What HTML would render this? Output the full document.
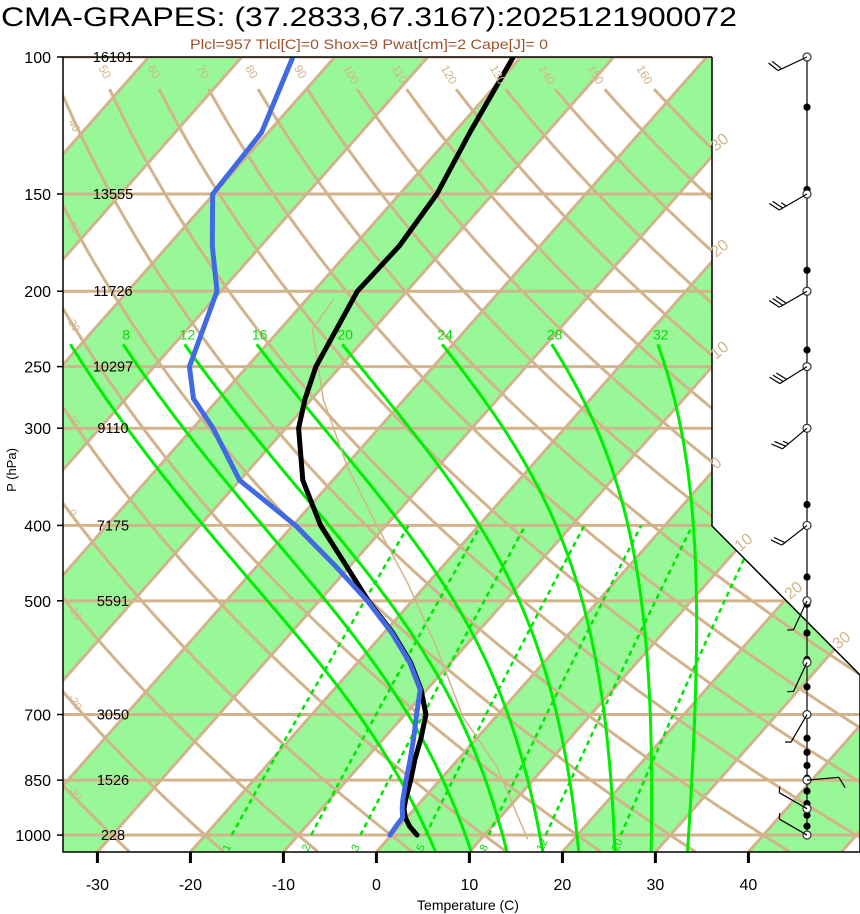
<!DOCTYPE html>
<html><head><meta charset="utf-8"><style>
html,body{margin:0;padding:0;background:#fff;}
svg{display:block;font-family:"Liberation Sans",Arial,sans-serif;}
</style></head><body>
<svg id="chart" width="860" height="914" viewBox="0 0 860 914" xmlns="http://www.w3.org/2000/svg">
<defs><clipPath id="clip"><polygon points="63,57 712,57 712,526 860,675 860,852 63,852"/></clipPath></defs>
<text x="1" y="26" font-size="27" textLength="736" lengthAdjust="spacingAndGlyphs">CMA-GRAPES: (37.2833,67.3167):2025121900072</text>
<text x="190" y="49" font-size="14" fill="#A0522D" textLength="358" lengthAdjust="spacingAndGlyphs">Plcl=957 Tlcl[C]=0 Shox=9 Pwat[cm]=2 Cape[J]= 0</text>
<g id="bg" clip-path="url(#clip)"></g>
<g id="fg"></g>
<text transform="translate(16,470) rotate(-90)" font-size="13" text-anchor="middle">P (hPa)</text>
<text x="468" y="910" font-size="14" text-anchor="middle">Temperature (C)</text>
</svg>
<script>
const pressureLevels=[100,125,150,175,200,250,275,300,350,400,450,500,550,600,650,700,750,800,850,900,925,950,975,1000];
const temperature=[-60.8,-58.3,-56.0,-55.1,-55.3,-52.6,-50.7,-48.6,-43.2,-37.0,-30.5,-24.7,-19.0,-14.3,-10.6,-7.7,-6.0,-4.6,-3.1,-1.8,-1.1,-0.1,1.2,2.8];
const dewpoint=[-84.5,-80.7,-80.1,-75.2,-70.4,-66.2,-62.7,-57.8,-50.0,-39.7,-31.7,-24.8,-19.1,-14.4,-10.7,-8.7,-6.8,-5.1,-3.6,-2.1,-1.3,-0.4,-0.3,-0.1];
const parcelP=[205,224,276,337,402,474,578,705,817,1013];
const parcelT=[-57.1,-56.5,-48.6,-39.6,-30.7,-22.2,-12.6,-3.5,4.9,15.1];
const isobarLevels=[100,150,200,250,300,400,500,700,850,1000];
const heightLabels=[16101,13555,11726,10297,9110,7175,5591,3050,1526,228];
const tempTicks=[-30,-20,-10,0,10,20,30,40];
const thetaValues=[-40,-30,-20,-10,0,10,20,30,40,50,60,70,80,90,100,110,120,130,140,150,160];
const moistValues=[4,8,12,16,20,24,28,32];
const mixingValues=[1,2,3,5,8,12,20];
const windDotP=[116,148,188,238,300,376,466,505,550,595,645,698,751,783,814,845,878,911,943,974,1003];
const windBarbP=[100,150,200,250,300,400,500,600,700,850,925,1000];
const windDir=[245,240,240,238,230,232,205,205,210,85,300,300];
const windSpd=[20,25,30,30,25,20,5,5,5,10,5,5];

const NS='http://www.w3.org/2000/svg';
const yP=p=>57+337.9*Math.log(p/100);
const xT=(T,p)=>376+9.3*T+0.884*(852-yP(p));
const bg=document.getElementById('bg'), fg=document.getElementById('fg');
function mk(tag,attrs,parent){const e=document.createElementNS(NS,tag);for(const k in attrs)e.setAttribute(k,attrs[k]);parent.appendChild(e);return e;}
const TAN='#D2B48C';

for(let T=-160;T<=60;T+=10){
  if(((Math.floor(T/10))%2+2)%2!==0) continue;
  const pts=[[xT(T,1050),852],[xT(T+10,1050),852],[xT(T+10,100),57],[xT(T,100),57]].map(a=>a.join(',')).join(' ');
  const b=mk('polygon',{points:pts,fill:'#98F898'},bg);
  
  
}
for(let T=-160;T<=60;T+=10){
  const l=mk('line',{x1:xT(T,1050),y1:852,x2:xT(T,100),y2:57,stroke:TAN,'stroke-width':3},bg);
  
  
}
thetaValues.forEach(th=>{
  const pts=[];
  for(let p=1050;p>=110;p-=5){const T=(th+273.15)*Math.pow(p/1000,0.2857)-273.15;pts.push(xT(T,p).toFixed(1)+','+yP(p).toFixed(1));}
  const l=mk('polyline',{points:pts.join(' '),fill:'none',stroke:TAN,'stroke-width':3},bg);
  
  
});
isobarLevels.forEach(p=>{
  const l=mk('line',{x1:63,x2:860,y1:yP(p),y2:yP(p),stroke:TAN,'stroke-width':3},bg);
  
  
});
function rs(T,p){const es=6.112*Math.exp(17.67*(T-273.15)/(T-29.65));return 0.622*es/(p-es);}
function dTdp(T,p){const r=rs(T,p);return (287*T+2.5e6*r)/(p*(1005+2.5e6*2.5e6*r*0.622/(287*T*T)));}
function moistPath(T0){
  const up=[],down=[];let T=T0+273.15;
  for(let p=1000;p>=234;p-=2){up.push([p,T]);const k1=dTdp(T,p);const k2=dTdp(T-2*k1,p-2);T=T-2*(k1+k2)/2;}
  T=T0+273.15;
  for(let p=1000;p<=1052;p+=2){down.push([p,T]);const k1=dTdp(T,p);const k2=dTdp(T+2*k1,p+2);T=T+2*(k1+k2)/2;}
  return down.reverse().concat(up);
}
moistValues.forEach(v=>{
  const path=moistPath(v);
  const pts=path.map(a=>xT(a[1]-273.15,a[0]).toFixed(1)+','+yP(a[0]).toFixed(1)).join(' ');
  const l=mk('polyline',{points:pts,fill:'none',stroke:'#00EE00','stroke-width':3},bg);
  
  
  const top=path[path.length-1];const x=xT(top[1]-273.15,top[0]);
  if(x>90){const t=mk('text',{x:x+3,y:yP(top[0])-5,'font-size':14,fill:'#00DD00','text-anchor':'middle'},fg);t.textContent=v;
  
  }
});
function tdFromW(w,p){const e=w*p/(622+w);const l=Math.log(e/6.112);return 243.5*l/(17.67-l);}
mixingValues.forEach(w=>{
  const pts=[];for(let p=1000;p>=400;p-=10){pts.push(xT(tdFromW(w,p),p).toFixed(1)+','+yP(p).toFixed(1));}
  const l=mk('polyline',{points:pts.join(' '),fill:'none',stroke:'#00E600','stroke-width':2.5,'stroke-dasharray':'5,4'},bg);
  
  
  const x=xT(tdFromW(w,1000),1000)-3;
  const t=mk('text',{transform:'translate('+x+',852) rotate(-65)','font-size':11,fill:'#00DD00'},fg);t.textContent=w;
  
  
});
{const pts=parcelP.map((p,i)=>xT(parcelT[i],p).toFixed(1)+','+yP(p).toFixed(1)).join(' ');
 const l=mk('polyline',{points:pts,fill:'none',stroke:TAN,'stroke-width':1.5},bg);
 
 }
function profile(vals,color,name){
  const pts=pressureLevels.map((p,i)=>xT(vals[i],p).toFixed(1)+','+yP(p).toFixed(1)).join(' ');
  const l=mk('polyline',{points:pts,fill:'none',stroke:color,'stroke-width':5,'stroke-linejoin':'round','stroke-linecap':'round'},bg);
  
  
}
profile(temperature,'#000000','temperature-line');
profile(dewpoint,'#4169E1','dewpoint-line');

{const f=mk('polyline',{points:'712,57 63,57 63,852 860,852 860,675 712,526 712,57',fill:'none',stroke:'#000','stroke-width':1.5},fg);
 
 }
isobarLevels.forEach((p,i)=>{
  const y=yP(p);
  const t=mk('text',{x:51,y:y+6,'font-size':16,'text-anchor':'end'},fg);t.textContent=p;
  
  
  const tk=mk('line',{x1:57,x2:63,y1:y,y2:y,stroke:'#000','stroke-width':1.5},fg);
  
  
  const h=mk('text',{x:113,y:y+5,'font-size':14.5,'text-anchor':'middle'},fg);h.textContent=heightLabels[i];
  
  
});
tempTicks.forEach(T=>{
  const x=xT(T,1050);
  const tk=mk('line',{x1:x,x2:x,y1:852,y2:863,stroke:'#000','stroke-width':3},fg);
  
  
  const t=mk('text',{x:x,y:890,'font-size':16,'text-anchor':'middle'},fg);t.textContent=T;
  
  
});
thetaValues.forEach(th=>{
  if(th<50) return;
  const p=100*Math.exp(18/337.9);const T=(th+273.15)*Math.pow(p/1000,0.2857)-273.15;const x=xT(T,p);
  if(x>700) return;
  const t=mk('text',{transform:'translate('+(x-5)+',68) rotate(60)','font-size':12,fill:TAN},fg);t.textContent=th;
  
  
});
[[40,130],[30,232],[20,330],[10,425],[0,520],[-10,615],[-20,705],[-30,795]].forEach(a=>{
  const t=mk('text',{transform:'translate(68,'+(a[1]-8)+') rotate(60)','font-size':11,fill:TAN},fg);t.textContent=a[0];
  
  
});
[[30,152],[20,258],[10,360],[0,470]].forEach(a=>{
  const t=mk('text',{transform:'translate(716,'+a[1]+') rotate(-40)','font-size':16,fill:TAN},fg);t.textContent=a[0];
  
  
});
[[10,740,552],[20,790,600],[30,838,650]].forEach(a=>{
  const t=mk('text',{transform:'translate('+a[1]+','+a[2]+') rotate(-40)','font-size':16,fill:TAN},fg);t.textContent=a[0];
  
  
});
{const l=mk('line',{x1:807,x2:807,y1:57,y2:835,stroke:'#333','stroke-width':1.5},fg);
 
 }
windDotP.forEach(p=>{
  const c=mk('circle',{cx:807,cy:yP(p),r:3.6,fill:'#000'},fg);
  
  
});
windBarbP.forEach((p,i)=>{
  const y=yP(p),x=807;const a=windDir[i]*Math.PI/180;
  const vx=Math.sin(a),vy=-Math.cos(a);
  const L=32;const ex=x+vx*L,ey=y+vy*L;
  const g=mk('g',{stroke:'#000','stroke-width':1.2,fill:'none'},fg);
  
  
  mk('circle',{cx:x,cy:y,r:4,fill:'#fff',stroke:'#333'},g);
  mk('line',{x1:x,y1:y,x2:ex,y2:ey},g);
  let s=windSpd[i],k=0;
  const px=-vy,py=vx;
  while(s>=5){const len=s>=10?12:6;const bx=ex-vx*k*4,by=ey-vy*k*4;
    mk('line',{x1:bx,y1:by,x2:bx+(px*0.9+vx*0.45)*len,y2:by+(py*0.9+vy*0.45)*len},g);
    s-=s>=10?10:5;k++;}
});
</script>
</body></html>
